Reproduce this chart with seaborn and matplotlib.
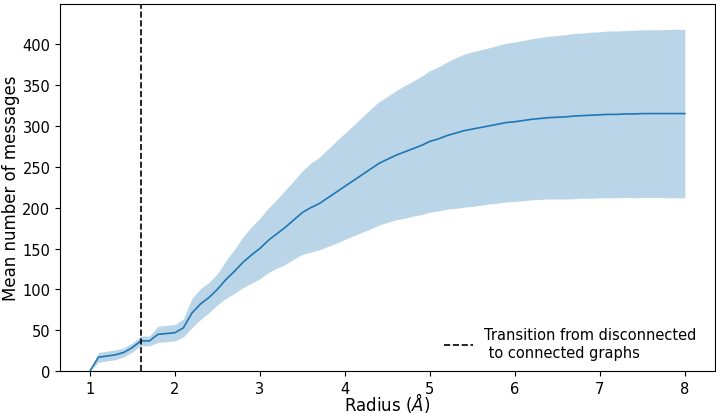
import matplotlib
matplotlib.use('Agg')
import matplotlib.pyplot as plt
import numpy as np
import pandas as pd
import seaborn as sns

# radius grid (Angstrom)
radius = np.round(np.arange(1.0, 8.01, 0.1), 1)

# mean number of messages per radius
mean_msgs = [
    0, 17, 18.5, 20, 23, 29, 37, 37, 45, 46,
    47, 53, 71, 82, 90, 100, 112, 122, 133, 142,
    150, 160, 168, 176, 185, 194, 200, 205, 212, 219,
    226, 233, 240, 247, 254, 259, 264, 268, 272, 276,
    281, 284, 288, 291, 294, 296, 298, 300, 302, 304,
    305, 306.5, 308, 309, 310, 310.5, 311, 312, 312.5, 313,
    313.5, 314, 314, 314.5, 314.5, 315, 315, 315, 315, 315,
    315,
]

# standard deviation of the number of messages
std_msgs = [
    0, 6, 6, 6, 5.5, 5.5, 6, 6, 10, 10,
    10, 11, 18, 19, 18.5, 19, 23, 27, 31, 34.5,
    37, 39.5, 42, 45.5, 48, 51, 54.5, 56.5, 59.5, 62.5,
    65, 67.5, 70.5, 73, 75.5, 77, 79, 81, 82.5, 84.5,
    86.5, 88, 90, 92, 93.5, 94.5, 95, 95.5, 96.5, 97,
    97.5, 98, 98.5, 99, 99.5, 100, 100.5, 101, 101, 101.5,
    101.5, 102, 102, 102, 102.5, 102.5, 102.5, 102.5, 103, 103,
    103,
]

transition_radius = 1.6

df = pd.DataFrame({'radius': radius, 'mean': mean_msgs, 'std': std_msgs})

fig, ax = plt.subplots(figsize=(7.16, 4.14), dpi=100)
fig.subplots_adjust(left=0.084, right=0.998, top=0.988, bottom=0.101)

sns.lineplot(x='radius', y='mean', data=df, ax=ax, color='#1f77b4',
             linewidth=1.2, errorbar=None)
ax.fill_between(df['radius'], df['mean'] - df['std'], df['mean'] + df['std'],
                color='#1f77b4', alpha=0.3, linewidth=0)
ax.axvline(transition_radius, color='black', linestyle='--', linewidth=1.2,
           label='Transition from disconnected\n to connected graphs')

ax.set_ylim(0, 449)
ax.set_xlabel('Radius ($\\AA$)', fontsize=12, labelpad=-4)
ax.set_ylabel('Mean number of messages', fontsize=12, labelpad=2)
ax.tick_params(labelsize=10.5)
ax.legend(loc='lower right', frameon=False, fontsize=10.5,
          bbox_to_anchor=(0.993, -0.005))

fig.savefig('out.png', dpi=100)
